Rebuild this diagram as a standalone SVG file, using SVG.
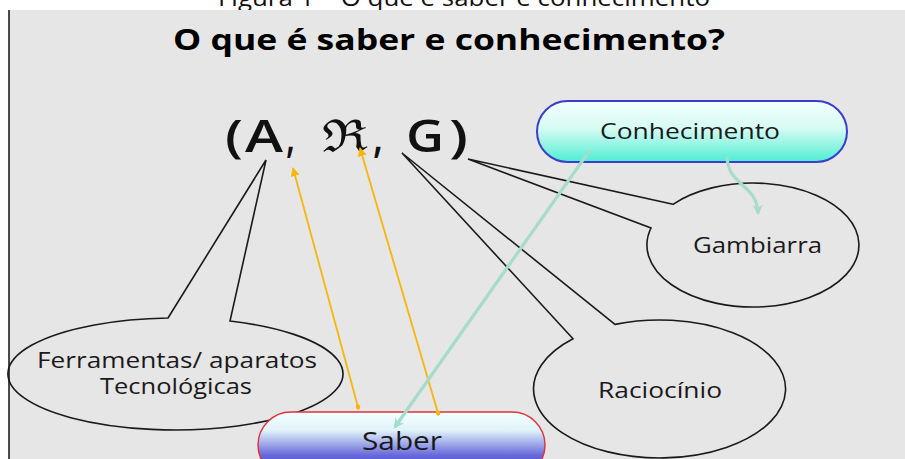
<svg xmlns="http://www.w3.org/2000/svg" width="905" height="459" viewBox="0 0 905 459">
<style>
.lbl{font-family:"Open Sans","Noto Sans","DejaVu Sans",sans-serif;fill:#1a1a1a;}
.callout{fill:none;stroke:#1a1a1a;stroke-width:1.6;stroke-linejoin:miter;}
.yel{stroke:#f6b60a;stroke-width:1.8;fill:none;}
.teal{stroke:#a6dccb;stroke-width:3.2;fill:none;}
.tup{font-family:"Open Sans","Noto Sans","DejaVu Sans",sans-serif;font-size:45px;font-weight:600;fill:#111;}
</style>
<defs>
<linearGradient id="gCon" x1="0" y1="0" x2="0" y2="1">
<stop offset="0" stop-color="#f2fffe"/>
<stop offset="0.45" stop-color="#d6fbf3"/>
<stop offset="1" stop-color="#4eeed2"/>
</linearGradient>
<linearGradient id="gSab" x1="0" y1="0" x2="0" y2="1">
<stop offset="0" stop-color="#f4fffd"/>
<stop offset="0.28" stop-color="#e0f3fa"/>
<stop offset="0.66" stop-color="#6668da"/>
<stop offset="1" stop-color="#3c3cc6"/>
</linearGradient>
<marker id="ayel" viewBox="0 0 10 10" refX="9" refY="5" markerWidth="5" markerHeight="5" orient="auto" markerUnits="strokeWidth">
<path d="M0,0 L10,5 L0,10 Z" fill="#f6b60a"/>
</marker>
<marker id="dyel" viewBox="0 0 10 10" refX="5" refY="5" markerWidth="3" markerHeight="3" orient="auto" markerUnits="strokeWidth">
<ellipse cx="5" cy="5" rx="5" ry="4" fill="#f6b60a"/>
</marker>
<marker id="ateal" viewBox="0 0 10 10" refX="8" refY="5" markerWidth="3.2" markerHeight="3.2" orient="auto" markerUnits="strokeWidth">
<path d="M0,0 L10,5 L0,10 L3,5 Z" fill="#a6dccb"/>
</marker>
</defs>
<rect x="0" y="0" width="905" height="459" fill="#ffffff"/>
<text x="464" y="6" font-family="Open Sans, Noto Sans, sans-serif" font-size="23" fill="#111" text-anchor="middle" textLength="492" lengthAdjust="spacingAndGlyphs">Figura 1 – O que é saber e conhecimento</text>
<rect x="9" y="10" width="896" height="449" fill="#e6e6e6"/>
<line x1="9" y1="10" x2="9" y2="459" stroke="#111" stroke-width="1.5"/>
<text x="173" y="50" font-family="Open Sans, Noto Sans, sans-serif" font-size="28" font-weight="bold" fill="#000" textLength="552" lengthAdjust="spacingAndGlyphs">O que é saber e conhecimento?</text>

<g id="tuple">
<text class="tup" x="225" y="152" textLength="18" lengthAdjust="spacingAndGlyphs">(</text>
<text class="tup" x="245" y="152" textLength="38" lengthAdjust="spacingAndGlyphs">A</text>
<text class="tup" x="286" y="152" textLength="9" lengthAdjust="spacingAndGlyphs">,</text>
<text class="tup" x="322" y="152" font-family="DejaVu Serif, DejaVu Sans, serif" textLength="46" lengthAdjust="spacingAndGlyphs">ℜ</text>
<text class="tup" x="373" y="152" textLength="10" lengthAdjust="spacingAndGlyphs">,</text>
<text class="tup" x="406" y="152" textLength="38" lengthAdjust="spacingAndGlyphs">G</text>
<text class="tup" x="449" y="152" textLength="19" lengthAdjust="spacingAndGlyphs">)</text>
</g>

<g id="ferramentas">
<path class="callout" d="M168,318 L266,160 L230,321 A167.5 56 0 1 1 168,318 Z"/>
<text class="lbl" x="37" y="368" font-size="21" textLength="280" lengthAdjust="spacingAndGlyphs">Ferramentas/ aparatos</text>
<text class="lbl" x="100" y="394" font-size="21" textLength="152" lengthAdjust="spacingAndGlyphs">Tecnológicas</text>
</g>

<g id="raciocinio">
<path class="callout" d="M573,338.8 L402,153 L615,324.4 A126 69 0 1 1 573,338.8 Z"/>
<text class="lbl" x="598" y="398" font-size="21" textLength="124" lengthAdjust="spacingAndGlyphs">Raciocínio</text>
</g>

<g id="gambiarra">
<path class="callout" d="M673,204.3 L468,159 L651,228 A106 62 0 1 0 673,204.3 Z"/>
<text class="lbl" x="693" y="253" font-size="21" textLength="129" lengthAdjust="spacingAndGlyphs">Gambiarra</text>
</g>

<g id="conhecimento">
<rect x="537" y="101" width="310" height="61" rx="30.5" fill="url(#gCon)" stroke="#3c3ccc" stroke-width="2"/>
<text class="lbl" x="600" y="139" font-size="21" textLength="180" lengthAdjust="spacingAndGlyphs">Conhecimento</text>
</g>

<g id="saber">
<rect x="258" y="412" width="287" height="66" rx="33" fill="url(#gSab)" stroke="#e0323f" stroke-width="1.5"/>
<text class="lbl" x="362" y="450" font-size="25" textLength="80" lengthAdjust="spacingAndGlyphs" fill="#111133">Saber</text>
</g>

<g id="connectors">
<line class="yel" x1="358" y1="407" x2="293" y2="168" marker-start="url(#dyel)" marker-end="url(#ayel)"/>
<line class="yel" x1="438" y1="413" x2="360" y2="148" marker-start="url(#dyel)" marker-end="url(#ayel)"/>
<line class="teal" x1="590" y1="150" x2="395" y2="427" marker-end="url(#ateal)"/>
<path class="teal" d="M727,157 C728,186 757,184 758,213" marker-end="url(#ateal)"/>
</g>
</svg>
